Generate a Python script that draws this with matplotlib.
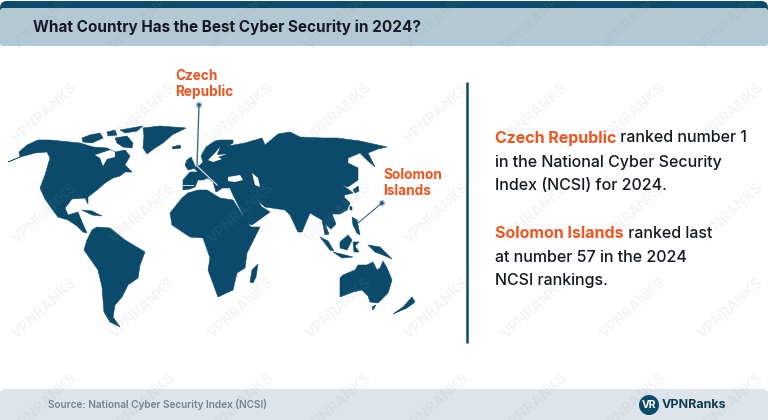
import matplotlib.pyplot as plt
from matplotlib.patches import Circle, FancyBboxPatch, Polygon

plt.rcParams["font.family"] = ["Inter", "DejaVu Sans"]

NAVY = "#0b4a6b"
ORANGE = "#f0531c"
INK = "#14181f"
HEADER = "#b3c8d5"
FOOTER = "#dde5ea"

title = "What Country Has the Best Cyber Security in 2024?"
source = "Source: National Cyber Security Index (NCSI)"
brand = "VPNRanks"
watermark = "VPNRANKS"

# Map outlines (x, y in image pixels)
north_america = [(8, 162), (20, 157), (19, 152), (27, 145), (38, 140), (50, 140), (70, 142), (80, 143), (93, 147),
                 (107, 148), (115, 152), (125, 150), (130, 156), (125, 165), (132, 172), (125, 172), (120, 176),
                 (113, 178), (105, 183), (97, 190), (88, 197), (88, 204), (85, 198), (72, 199), (65, 208), (68, 215),
                 (75, 213), (78, 212), (82, 222), (87, 233), (83, 232), (77, 226), (68, 220), (58, 217), (52, 209),
                 (45, 199), (40, 188), (45, 175), (50, 158), (47, 152), (35, 153), (20, 157)]
arctic_a = [(82, 138), (90, 135), (100, 133), (103, 138), (92, 143), (83, 142)]
arctic_b = [(107, 132), (115, 130), (117, 135), (108, 136)]
baffin = [(115, 138), (127, 136), (133, 143), (132, 148), (123, 147), (117, 143)]
ellesmere = [(120, 130), (143, 126), (137, 131), (125, 133)]
greenland = [(143, 128), (160, 126), (186, 128), (172, 135), (163, 143), (155, 148), (147, 154), (143, 148), (144, 136)]
iceland = [(172, 147), (180, 145), (181, 148), (173, 149)]
uk = [(187, 160), (191, 157), (196, 168), (188, 170), (185, 165)]
eurasia = [(183, 190), (183, 180), (190, 172), (198, 172), (194, 168), (200, 165), (203, 162), (201, 156), (206, 147),
           (215, 141), (220, 140), (233, 140), (233, 143), (228, 146), (245, 143), (262, 138), (265, 145), (278, 134),
           (290, 132), (300, 137), (323, 138), (337, 138), (360, 141), (387, 147), (378, 149), (368, 153), (375, 167),
           (367, 160), (360, 153), (348, 158), (348, 163), (358, 168), (358, 180), (348, 187), (342, 185), (348, 189),
           (353, 193), (345, 195), (344, 197), (350, 203), (347, 210), (340, 214), (332, 214), (336, 224), (331, 229),
           (325, 224), (329, 234), (325, 235), (322, 220), (310, 213), (302, 232), (298, 232), (290, 215), (285, 210),
           (272, 208), (265, 207), (257, 200), (262, 207), (270, 212), (252, 225), (247, 223), (237, 203), (233, 195),
           (230, 188), (222, 188), (218, 191), (216, 192), (213, 182), (208, 178), (203, 180), (198, 180), (195, 187),
           (190, 189)]
africa = [(170, 213), (182, 198), (188, 193), (198, 190), (207, 190), (215, 195), (220, 198), (233, 200), (247, 222),
          (251, 227), (260, 227), (247, 253), (245, 268), (237, 273), (233, 290), (218, 297), (208, 270), (210, 258),
          (203, 238), (190, 237), (172, 225)]
south_america = [(97, 227), (110, 228), (125, 240), (145, 252), (140, 265), (138, 278), (128, 285), (122, 297),
                 (115, 305), (113, 317), (120, 327), (110, 322), (104, 312), (102, 287), (98, 270), (84, 250), (87, 240),
                 (92, 230)]
cuba = [(82, 210), (92, 211), (102, 216), (92, 215)]
madagascar = [(258, 264), (256, 277), (253, 283), (250, 282), (252, 270)]
australia = [(340, 278), (343, 275), (355, 270), (358, 265), (367, 265), (373, 262), (377, 270), (380, 268), (383, 261),
             (387, 268), (392, 280), (388, 293), (378, 303), (370, 302), (368, 296), (362, 290), (353, 292), (340, 297)]
tasmania = [(372, 307), (376, 305), (373, 310)]
new_zealand = [(393, 314), (403, 307), (412, 297), (415, 302), (407, 308)]
new_guinea = [(368, 245), (380, 247), (392, 259), (383, 255), (375, 252)]
borneo = [(340, 242), (348, 235), (352, 240), (347, 250), (340, 248)]
sulawesi = [(353, 242), (359, 242), (355, 246), (359, 252), (354, 252)]
sumatra = [(320, 237), (328, 241), (334, 251), (330, 250)]
java = [(333, 252), (345, 255), (353, 257), (342, 258)]
philippines = [(352, 217), (357, 220), (360, 235), (357, 233), (353, 225)]
japan = [(353, 190), (358, 186), (359, 191), (355, 193)]
taiwan = [(350, 206), (352, 207), (352, 210), (350, 210)]
hainan = [(337, 211), (340, 212), (338, 214)]
land = [north_america, arctic_a, arctic_b, baffin, ellesmere, greenland, iceland, uk, eurasia, africa, south_america,
        cuba, madagascar, australia, tasmania, new_zealand, new_guinea, borneo, sulawesi, sumatra, java, philippines,
        japan, taiwan, hainan]

# Inland water cut out of the land
hudson_bay = [(95, 155), (110, 150), (115, 152), (115, 157), (107, 159), (103, 166), (100, 158)]
baltic = [(220, 147), (215, 153), (208, 160), (213, 162), (222, 159), (218, 157), (227, 154), (217, 155)]
black_sea = [(228, 177), (240, 175), (243, 180), (235, 182), (228, 181)]
caspian = [(252, 173), (258, 178), (260, 187), (255, 185)]
water = [hudson_bay, baltic, black_sea, caspian]

wm_cols = [45, 143, 241, 339, 437, 535, 633, 731]
wm_rows = [20, 113, 213, 308, 403]

fig = plt.figure(figsize=(7.68, 4.2), dpi=100)
ax = fig.add_axes([0, 0, 1, 1])
ax.set_xlim(0, 768)
ax.set_ylim(420, 0)
ax.axis("off")

# Header and footer bands
ax.add_patch(FancyBboxPatch((0, 1), 768, 20, boxstyle="round,pad=0,rounding_size=7", color=NAVY, lw=0))
ax.add_patch(FancyBboxPatch((0, 8), 768, 38, boxstyle="round,pad=0,rounding_size=3", color=HEADER, lw=0))
ax.add_patch(FancyBboxPatch((0, 389), 768, 40, boxstyle="round,pad=0,rounding_size=5", color=FOOTER, lw=0))
ax.text(33, 27, title, fontsize=11, fontweight="bold", color=INK, va="center")
ax.text(48, 404, source, fontsize=7.25, fontweight="semibold", color="#76838c", va="center")

for outline in land:
    ax.add_patch(Polygon(outline, closed=True, facecolor=NAVY, edgecolor=NAVY, lw=0.4))
for outline in water:
    ax.add_patch(Polygon(outline, closed=True, facecolor="white", edgecolor="none"))

# Callouts
ax.plot([183, 193], [185, 185], color="#cfdde5", lw=0.7)
ax.plot([199, 197], [105, 166], color="#3d7089", lw=1)
ax.plot([197, 217], [166, 185], color="#cfdde5", lw=0.9)
ax.plot([382, 358], [203, 223], color="#2d6382", lw=0.8)
for cx, cy in [(199, 105), (382, 203)]:
    ax.add_patch(Circle((cx, cy), 3.2, color="#a9c0ce", lw=0))
    ax.add_patch(Circle((cx, cy), 1.7, color=NAVY, lw=0))
ax.text(175, 84, "Czech\nRepublic", fontsize=9.8, fontweight="bold", color=ORANGE, va="center", linespacing=1.1)
ax.text(383, 183, "Solomon\nIslands", fontsize=9.8, fontweight="bold", color=ORANGE, va="center", linespacing=1.1)

# Divider and side text
ax.plot([467, 467], [82, 343], color=NAVY, lw=1.8, solid_capstyle="butt")
for x, y, lead, rest in [(495, 138, "Czech Republic", " ranked number 1"), (495, 233, "Solomon Islands", " ranked last")]:
    lead_text = ax.text(x, y, lead, fontsize=11.5, fontweight="bold", color=ORANGE, va="center")
    ax.annotate(rest, xy=(1, 0.5), xycoords=lead_text, fontsize=11.5, fontweight="medium", color=INK, va="center")
for y, line in [(162, "in the National Cyber Security"), (186, "Index (NCSI) for 2024."),
                (257, "at number 57 in the 2024"), (281, "NCSI rankings.")]:
    ax.text(495, y, line, fontsize=11.5, fontweight="medium", color=INK, va="center")

# Logo
ax.add_patch(Circle((649, 405), 10, color=NAVY, lw=0))
ax.text(649, 405, "VR", fontsize=7.5, fontweight="bold", color="white", ha="center", va="center")
ax.text(662, 405, brand, fontsize=9, fontweight="bold", color="#123a52", va="center")

# Watermark grid, cropped by the canvas edge at top and bottom as in the source image
for wx in wm_cols:
    for wy in wm_rows:
        ax.text(wx, wy, watermark, fontsize=10.5, fontweight="bold", color="#8a9aa5", alpha=0.1, rotation=42,
                ha="center", va="center", clip_on=True)

fig.savefig("out.png", dpi=100)
